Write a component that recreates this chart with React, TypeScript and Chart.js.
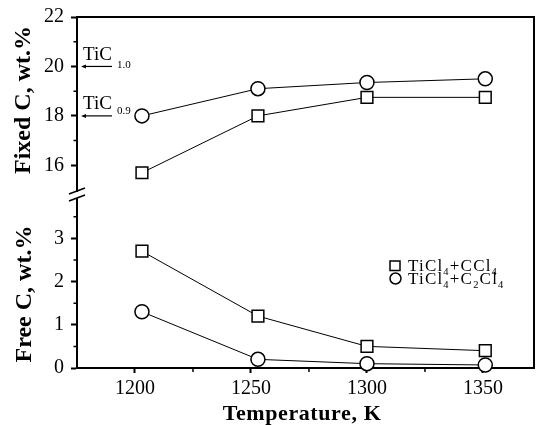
import React, { useEffect, useRef } from 'react';
import { Chart, registerables } from 'chart.js';

Chart.register(...registerables);

// ---- data ----
const temperatures = [1203, 1253, 1300, 1351];
const fixedCCl4 = [15.7, 18.0, 18.75, 18.75];
const fixedC2Cl4 = [18.0, 19.1, 19.35, 19.5];
const freeCCl4 = [2.7, 1.2, 0.5, 0.4];
const freeC2Cl4 = [1.3, 0.2, 0.1, 0.07];

const xTicks = [1200, 1250, 1300, 1350];
const xMinorTicks = [1225, 1275, 1325];
const fixedTicks = [16, 18, 20, 22];
const fixedMinorTicks = [17, 19, 21];
const freeTicks = [0, 1, 2, 3];
const freeMinorTicks = [0.5, 1.5, 2.5, 3.5];

const stoichValues = [20, 18];
const stoichSubs = ['1.0', '0.9'];

const legendCCl4: [string, boolean][] = [['TiCl', false], ['4', true], ['+CCl', false], ['4', true]];
const legendC2Cl4: [string, boolean][] = [['TiCl', false], ['4', true], ['+C', false], ['2', true], ['Cl', false], ['4', true]];

const xTitle = 'Temperature, K';
const yTopTitle = 'Fixed C, wt.%';
const yBotTitle = 'Free C, wt.%';

const serif = "'Liberation Serif', 'Times New Roman', serif";

function pts(ys: number[]) {
  return temperatures.map((t, i) => ({ x: t, y: ys[i] }));
}

function drawRich(ctx: CanvasRenderingContext2D, parts: [string, boolean][], x: number, y: number, size: number, subSize: number, drop: number) {
  let cx = x;
  for (const [t, sub] of parts) {
    ctx.font = `${sub ? subSize : size}px ${serif}`;
    ctx.fillText(t, cx, sub ? y + drop : y);
    cx += ctx.measureText(t).width;
  }
}

const decorPlugin = {
  id: 'decor',
  afterDraw(chart: any) {
    const ctx: any = chart.ctx;
    const ca = chart.chartArea;
    const xs = chart.scales.x;
    const yt = chart.scales.yTop;
    const yb = chart.scales.yBot;
    ctx.save();
    ctx.strokeStyle = '#000';
    ctx.fillStyle = '#000';
    // frame top & right
    ctx.lineWidth = 2;
    ctx.beginPath();
    ctx.moveTo(ca.left - 1, ca.top);
    ctx.lineTo(ca.right, ca.top);
    ctx.lineTo(ca.right, ca.bottom + 1);
    ctx.stroke();
    // minor ticks
    ctx.lineWidth = 1.5;
    ctx.beginPath();
    for (const v of fixedMinorTicks) {
      const y = yt.getPixelForValue(v);
      ctx.moveTo(ca.left - 3.5, y);
      ctx.lineTo(ca.left, y);
    }
    for (const v of freeMinorTicks) {
      const y = yb.getPixelForValue(v);
      ctx.moveTo(ca.left - 3.5, y);
      ctx.lineTo(ca.left, y);
    }
    for (const v of xMinorTicks) {
      const x = xs.getPixelForValue(v);
      ctx.moveTo(x, ca.bottom);
      ctx.lineTo(x, ca.bottom + 4);
    }
    ctx.stroke();
    // axis break
    const by = yb.top;
    ctx.fillStyle = '#fff';
    ctx.fillRect(ca.left - 3, by - 3, 6, 6);
    ctx.lineWidth = 1.6;
    ctx.beginPath();
    ctx.moveTo(ca.left - 8, by - 1);
    ctx.lineTo(ca.left + 8, by - 7);
    ctx.moveTo(ca.left - 8, by + 6);
    ctx.lineTo(ca.left + 8, by);
    ctx.stroke();
    ctx.fillStyle = '#000';
    // TiC markers
    ctx.textAlign = 'left';
    ctx.textBaseline = 'alphabetic';
    stoichValues.forEach((v, i) => {
      const y = yt.getPixelForValue(v);
      ctx.lineWidth = 1.2;
      ctx.beginPath();
      ctx.moveTo(ca.left + 35, y);
      ctx.lineTo(ca.left + 7, y);
      ctx.stroke();
      ctx.beginPath();
      ctx.moveTo(ca.left + 4, y);
      ctx.lineTo(ca.left + 9, y - 2);
      ctx.lineTo(ca.left + 9, y + 2);
      ctx.closePath();
      ctx.fill();
      ctx.font = `19px ${serif}`;
      ctx.fillText('TiC', ca.left + 6, y - 6.5);
      const w = ctx.measureText('TiC').width;
      ctx.font = `11px ${serif}`;
      ctx.fillText(stoichSubs[i], ca.left + 6 + w + 5, y + (i === 0 ? 1.5 : -2));
    });
    // legend
    const lx = 395;
    ctx.lineWidth = 1.5;
    ctx.strokeRect(lx - 5, 261, 10, 9.5);
    ctx.beginPath();
    ctx.arc(lx + 0.5, 278.5, 5.5, 0, Math.PI * 2);
    ctx.stroke();
    ctx.letterSpacing = '1.2px';
    drawRich(ctx, legendCCl4, 408, 270.5, 17, 10.5, 4.5);
    drawRich(ctx, legendC2Cl4, 408, 283.5, 17, 10.5, 4.5);
    ctx.letterSpacing = '0px';
    // titles
    ctx.font = `bold 24px ${serif}`;
    ctx.textAlign = 'center';
    ctx.textBaseline = 'middle';
    ctx.save();
    ctx.translate(24, 100);
    ctx.rotate(-Math.PI / 2);
    ctx.fillText(yTopTitle, 0, 0);
    ctx.restore();
    ctx.save();
    ctx.translate(25, 294);
    ctx.rotate(-Math.PI / 2);
    ctx.fillText(yBotTitle, 0, 0);
    ctx.restore();
    ctx.font = `bold 22px ${serif}`;
    ctx.letterSpacing = '0.6px';
    ctx.textBaseline = 'alphabetic';
    ctx.fillText(xTitle, 302, 419.5);
    ctx.letterSpacing = '0px';
    ctx.restore();
  },
};

function yScale(min: number, max: number, ticks: number[], weight: number, stackWeight: number) {
  return {
    type: 'linear',
    position: 'left',
    stack: 'y',
    stackWeight,
    weight,
    min,
    max,
    afterBuildTicks: (s: any) => {
      s.ticks = ticks.map((v) => ({ value: v }));
    },
    afterFit: (s: any) => {
      s.width = 77;
      s.paddingTop = 0;
      s.paddingBottom = 0;
    },
    grid: { drawOnChartArea: false, drawTicks: true, tickLength: 6, tickWidth: 2, tickColor: '#000' },
    border: { display: true, color: '#000', width: 2 },
    ticks: {
      color: '#000',
      font: { family: serif, size: 20 },
      padding: 7,
      autoSkip: false,
      callback: (v: any) => String(v),
    },
  };
}

const lineStyle = (pointStyle: string, radius: number) => ({
  borderColor: '#000',
  borderWidth: 1,
  backgroundColor: '#fff',
  pointStyle,
  pointRadius: radius,
  pointBorderWidth: 1.5,
  pointBorderColor: '#000',
  pointBackgroundColor: '#fff',
  clip: false as any,
  tension: 0,
});

export default function App() {
  const ref = useRef<HTMLCanvasElement>(null);
  useEffect(() => {
    if (!ref.current) return;
    const chart = new Chart(ref.current, {
      type: 'line',
      data: {
        datasets: [
          { label: 'TiCl4+CCl4', data: pts(fixedCCl4), yAxisID: 'yTop', ...lineStyle('rect', 8.3) },
          { label: 'TiCl4+C2Cl4', data: pts(fixedC2Cl4), yAxisID: 'yTop', ...lineStyle('circle', 7) },
          { label: 'TiCl4+CCl4', data: pts(freeCCl4), yAxisID: 'yBot', ...lineStyle('rect', 8.3) },
          { label: 'TiCl4+C2Cl4', data: pts(freeC2Cl4), yAxisID: 'yBot', ...lineStyle('circle', 7) },
        ] as any,
      },
      options: {
        animation: false,
        responsive: false,
        maintainAspectRatio: false,
        layout: { autoPadding: false, padding: { top: 17, right: 6, left: 0, bottom: 0 } },
        plugins: { legend: { display: false }, tooltip: { enabled: false } },
        scales: {
          x: {
            type: 'linear',
            min: 1175,
            max: 1372,
            position: 'bottom',
            afterBuildTicks: (s: any) => {
              s.ticks = xTicks.map((v) => ({ value: v }));
            },
            afterFit: (s: any) => {
              s.height = 57;
              s.paddingLeft = 0;
              s.paddingRight = 0;
            },
            grid: { drawOnChartArea: false, drawTicks: true, tickLength: 5, tickWidth: 2, tickColor: '#000' },
            border: { display: true, color: '#000', width: 2 },
            ticks: {
              color: '#000',
              font: { family: serif, size: 20 },
              padding: 4,
              maxRotation: 0,
              autoSkip: false,
              callback: (v: any) => String(v),
            },
          },
          yTop: yScale(14.8, 22, fixedTicks, 2, 178) as any,
          yBot: yScale(0, 4, freeTicks, 1, 173) as any,
        },
      },
      plugins: [decorPlugin],
    });
    return () => chart.destroy();
  }, []);
  return (
    <div style={{ position: 'fixed', left: 0, top: 0, width: 540, height: 425, background: '#fff' }}>
      <canvas ref={ref} width={540} height={425} style={{ display: 'block' }} />
    </div>
  );
}
